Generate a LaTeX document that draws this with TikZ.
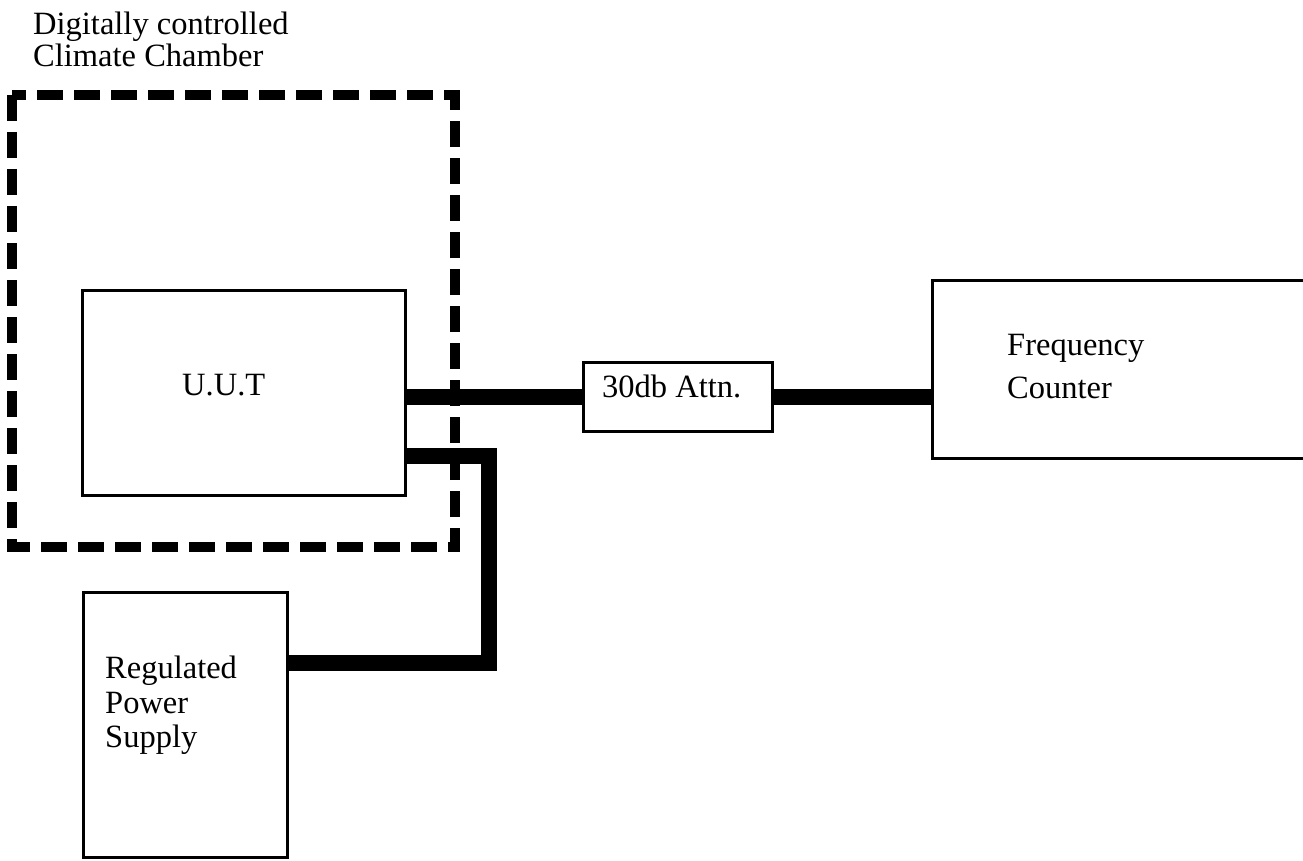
\documentclass[tikz,border=0pt]{standalone}
\usepackage{fontspec}
\setmainfont{Liberation Serif}
\begin{document}
\begin{tikzpicture}[x=1pt,y=-1pt,
  box/.style={draw=black, line width=3pt, fill=none, inner sep=0pt, outer sep=0pt},
  cable/.style={draw=black, line width=16pt, line cap=butt, line join=miter},
  chamber/.style={draw=black, line width=9.5pt, dash pattern=on 26pt off 11pt},
  txt/.style={anchor=base west, inner sep=0pt, font=\fontsize{32.5}{34}\selectfont, align=left}
]
\useasboundingbox (0,0) rectangle (1303,861);
\clip (0,0) rectangle (1303,861);
\fill[white] (0,0) rectangle (1303,861);

% boxes
\node[box, minimum width=323pt, minimum height=205pt] (uut) at (243.5,392.5) {};
\node[box, minimum width=189pt, minimum height=69pt] (attn) at (677.5,396.5) {};
\node[box, minimum width=204pt, minimum height=265pt] (ps) at (185,724.5) {};
% frequency counter (open to the right, runs off the page)
\coordinate (fcTL) at (932,280);
\coordinate (fcBL) at (932,458);
\coordinate (fcTR) at (1320,280);
\coordinate (fcBR) at (1320,458);
\draw[line width=3pt] (fcTR) -- (fcTL) -- (fcBL) -- (fcBR);
\node[inner sep=0pt, minimum width=0pt, minimum height=178pt, anchor=west] (fc) at (932,369) {};

% texts
\node[txt] (tch1) at (33,35) {Digitally controlled};
\node[txt] (tch2) at (33,67) {Climate Chamber};
\node[txt] (tuut) at (182,395) {U.U.T};
\node[txt] (tattn) at (602,397) {30db Attn.};
\node[txt] (tfc1) at (1007,355) {Frequency};
\node[txt] (tfc2) at (1007,398) {Counter};
\node[txt] (tps1) at (105,678) {Regulated};
\node[txt] (tps2) at (105,713) {Power};
\node[txt] (tps3) at (105,747) {Supply};

% cables
\draw[cable] (attn.west -| uut.east) -- (attn.west);
\draw[cable] (attn.east) -- (attn.east -| fc.west);
\coordinate (c1) at (489,456);
\coordinate (c2) at (489,663);
\draw[cable] (c1 -| uut.east) -- (c1) -- (c2) -- (c2 -| ps.east);

% climate chamber
\draw[chamber] (12,95) rectangle (455,547);
\end{tikzpicture}
\end{document}
